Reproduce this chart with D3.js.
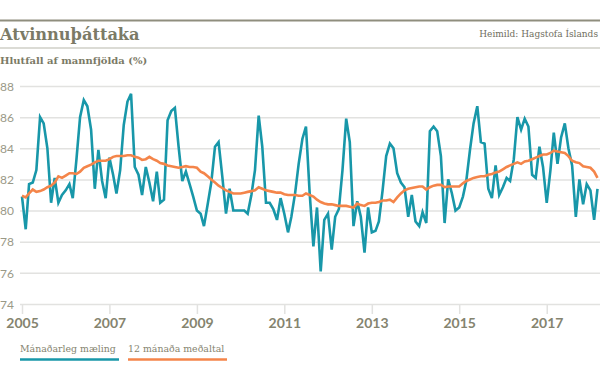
<!DOCTYPE html>
<html>
<head>
<meta charset="utf-8">
<script src="https://cdn.jsdelivr.net/npm/d3@7"></script>
<style>
  body { margin: 0; background: #fff; }
  svg text { fill: #85846f; }
</style>
</head>
<body>
<div id="chart"></div>
<script>
var w = 600,
    h = 389;

var startYear = 2005;

// Mánaðarleg mæling, jan 2005 - mar 2018
var monthly = [
  80.9, 78.8, 81.7, 81.8, 82.6, 86.0, 85.6, 84.0, 80.5, 82.1, 80.5, 81.0,
  81.3, 81.7, 80.8, 83.3, 86.0, 87.1, 86.7, 85.2, 81.4, 83.9, 81.9, 80.8,
  83.4, 82.3, 81.1, 82.6, 85.5, 87.0, 87.5, 82.8, 82.3, 81.0, 82.8, 81.8,
  80.6, 82.5, 80.5, 80.7, 85.8, 86.4, 86.6, 84.1, 81.9, 82.5, 81.7, 80.9,
  80.0, 79.8, 79.0, 80.4, 81.8, 84.1, 84.4, 82.2, 79.8, 81.4, 80.0, 80.0,
  80.0, 80.0, 79.8, 81.0, 82.6, 86.1, 84.1, 80.5, 80.5, 80.1, 79.4, 80.8,
  79.8, 78.6, 79.6, 81.1, 83.0, 84.6, 85.4, 81.1, 77.7, 80.2, 76.1, 79.4,
  79.8, 77.5, 79.6, 80.1, 82.6, 85.9, 84.4, 79.0, 80.6, 79.6, 77.3, 80.2,
  78.6, 78.7, 79.3, 81.3, 83.5, 84.3, 84.0, 82.4, 81.8, 81.5, 79.6, 81.0,
  79.3, 79.0, 79.9, 79.2, 85.1, 85.4, 85.1, 83.5, 79.2, 82.0, 81.1, 80.0,
  80.2, 80.9, 81.9, 83.9, 85.6, 86.7, 84.4, 84.3, 81.4, 80.8, 82.9, 81.0,
  81.5, 82.1, 81.9, 83.3, 86.0, 85.2, 85.9, 85.4, 82.3, 82.1, 84.1, 82.8,
  80.5, 82.6, 85.0, 83.0, 84.7, 85.6, 84.0, 82.9, 79.6, 82.0, 80.4, 81.7,
  81.3, 79.4, 81.4
];

// 12 mánaða meðaltal
var average = [
  80.95, 80.85, 81.1, 81.35, 81.2, 81.25, 81.35, 81.5, 81.6, 81.8, 82.2, 82.1,
  82.25, 82.4, 82.4, 82.35, 82.5, 82.75, 82.85, 82.95, 83.1, 83.2, 83.2, 83.2,
  83.3, 83.45, 83.5, 83.5, 83.5, 83.55, 83.55, 83.45, 83.4, 83.25, 83.3, 83.45,
  83.3, 83.2, 83.05, 83.0, 82.9, 82.85, 82.8, 82.75, 82.8, 82.85, 82.8, 82.8,
  82.75, 82.5, 82.4, 82.2, 82.0, 81.8, 81.6, 81.45, 81.3, 81.2, 81.1, 81.1,
  81.1, 81.15, 81.2, 81.25, 81.3, 81.5, 81.4, 81.3, 81.25, 81.2, 81.15, 81.15,
  81.05, 81.0, 81.0, 81.0, 80.95, 80.95, 81.1, 81.0, 80.9, 80.7, 80.55, 80.45,
  80.4, 80.4, 80.35, 80.3, 80.3, 80.3, 80.25, 80.2, 80.45, 80.35, 80.3, 80.45,
  80.5, 80.5, 80.55, 80.65, 80.65, 80.7, 80.55, 80.85, 81.1, 81.3, 81.4, 81.45,
  81.5, 81.55, 81.55, 81.35, 81.5, 81.6, 81.65, 81.65, 81.5, 81.55, 81.55, 81.55,
  81.55, 81.75, 81.9, 82.0, 82.1, 82.15, 82.2, 82.2, 82.3, 82.35, 82.45, 82.5,
  82.65, 82.8, 82.9, 83.0, 83.1, 83.0, 83.15, 83.2, 83.3, 83.4, 83.5, 83.6,
  83.6, 83.7, 83.85, 83.8, 83.75, 83.7, 83.5, 83.2, 83.1, 83.05, 82.85, 82.8,
  82.75, 82.5, 82.1
];

var yTicks = [74, 76, 78, 80, 82, 84, 86, 88];
var xTickYears = [2005, 2007, 2009, 2011, 2013, 2015, 2017];
var seriesNames = ["Mánaðarleg mæling", "12 mánaða meðaltal"];
var seriesColors = ["#1897a9", "#f4854a"];

var serif = "'DejaVu Serif', serif";

var svg = d3.select("#chart")
    .append("svg")
    .attr("width", w)
    .attr("height", h);

// header rules
svg.append("line")
    .attr("x1", 0).attr("x2", w).attr("y1", 20.5).attr("y2", 20.5)
    .style("stroke", "#8f8e7e").style("stroke-width", 2);
svg.append("line")
    .attr("x1", 0).attr("x2", w).attr("y1", 48).attr("y2", 48)
    .style("stroke", "#cfcfc7").style("stroke-width", 1.5);

svg.append("text")
    .attr("x", 0)
    .attr("y", 40)
    .style("font-family", serif)
    .style("font-weight", "bold")
    .style("font-size", "16.2px")
    .style("fill", "#7b7a66")
    .text("Atvinnuþáttaka");

svg.append("text")
    .attr("x", 598)
    .attr("y", 37)
    .attr("text-anchor", "end")
    .style("font-family", serif)
    .style("font-size", "9px")
    .style("fill", "#6f6e5e")
    .text("Heimild: Hagstofa Íslands");

svg.append("text")
    .attr("x", 0)
    .attr("y", 64)
    .style("font-family", serif)
    .style("font-weight", "bold")
    .style("font-size", "10px")
    .style("fill", "#7b7a66")
    .text("Hlutfall af mannfjölda (%)");

var x = d3.scaleTime()
    .domain([new Date(2005, 0, 1), new Date(2018, 2, 22)])
    .range([22, 600]);

var y = d3.scaleLinear().domain([74, 88]).range([304, 86]);

// gridlines + y labels
var yAxis = d3.axisLeft(y).tickValues(yTicks).tickSize(-580).tickFormat(d3.format("d"));
var gy = svg.append("g")
    .attr("transform", "translate(20,0)")
    .call(yAxis);
gy.select(".domain").remove();
gy.selectAll(".tick line").style("stroke", "#e2e2e0").style("stroke-width", 1.5);
gy.selectAll(".tick text")
    .attr("x", -20)
    .attr("dy", "0.35em")
    .attr("text-anchor", "start")
    .style("font-family", "Lato, sans-serif")
    .style("font-size", "12px")
    .style("fill", "#9a9987");

// x axis
var xAxis = d3.axisBottom(x)
    .tickValues(xTickYears.map(function (yr) { return new Date(yr, 0, 1); }))
    .tickFormat(d3.timeFormat("%Y"))
    .tickSize(10);
var gx = svg.append("g")
    .attr("transform", "translate(0,304)")
    .call(xAxis);
gx.select(".domain").remove();
gx.selectAll(".tick line").style("stroke", "#e2e2e0").style("stroke-width", 1.5);
gx.selectAll(".tick text")
    .attr("y", 14)
    .style("font-family", "Lato, sans-serif")
    .style("font-weight", "bold")
    .style("font-size", "14px")
    .style("fill", "#85846f");

function dateOf(i) { return new Date(startYear, i, 1); }

var line = d3.line()
    .x(function (d, i) { return x(dateOf(i)); })
    .y(function (d) { return y(d); });

svg.append("path")
    .datum(monthly)
    .attr("d", line)
    .style("fill", "none")
    .style("stroke", seriesColors[0])
    .style("stroke-width", 2.6)
    .style("stroke-linejoin", "miter");

svg.append("path")
    .datum(average)
    .attr("d", line)
    .style("fill", "none")
    .style("stroke", seriesColors[1])
    .style("stroke-width", 2.6);

// legend
var legendX = [20, 128];
var legend = svg.selectAll(".legend")
    .data(seriesNames)
    .enter()
    .append("g")
    .attr("class", "legend")
    .attr("transform", function (d, i) { return "translate(" + legendX[i] + ",0)"; });

legend.append("text")
    .attr("x", 0)
    .attr("y", 352)
    .style("font-family", serif)
    .style("font-size", "9.4px")
    .style("fill", "#85846f")
    .text(function (d) { return d; });

legend.append("line")
    .attr("x1", 0).attr("x2", 99)
    .attr("y1", 359.5).attr("y2", 359.5)
    .style("stroke", function (d, i) { return seriesColors[i]; })
    .style("stroke-width", 2.6);
</script>
</body>
</html>
